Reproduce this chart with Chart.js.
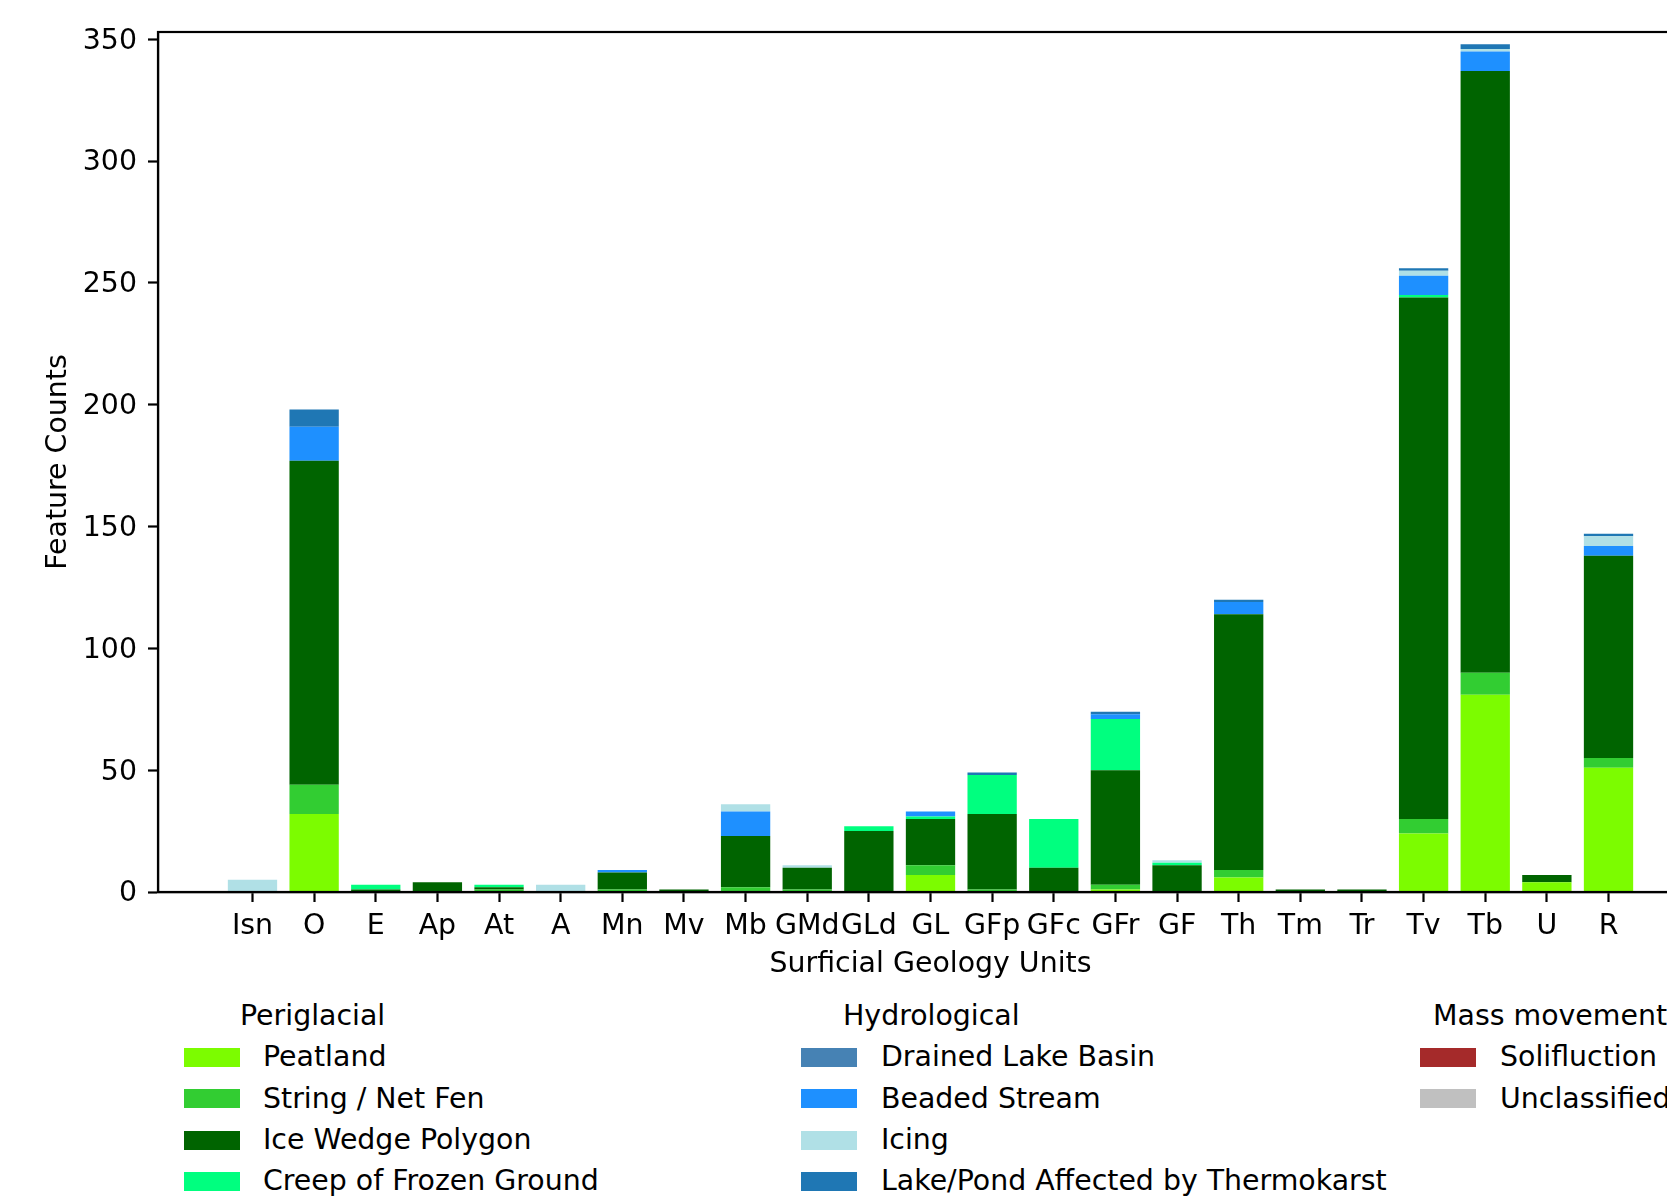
<!DOCTYPE html>
<html>
<head>
<meta charset="utf-8">
<script src="https://cdn.jsdelivr.net/npm/chart.js@4/dist/chart.umd.min.js"></script>
<style>
  body { margin: 0; background: #fff; overflow: hidden; width: 1667px; height: 1199px; position: relative; }
  #wrap { position: absolute; left: 0; top: 0; width: 1760px; height: 982px; }
  .lg { position: absolute; font-family: 'DejaVu Sans', sans-serif; font-size: 28.4px; color: #000; line-height: 42px; white-space: nowrap; }
  .patch { position: absolute; width: 56px; height: 19px; }
</style>
</head>
<body>
<div id="wrap"><canvas id="chart"></canvas></div>
<div id="legend"></div>
<script>
let _$ = (selector) => document.querySelector(selector);

const units = ['Isn','O','E','Ap','At','A','Mn','Mv','Mb','GMd','GLd','GL','GFp','GFc','GFr','GF','Th','Tm','Tr','Tv','Tb','U','R'];
const yTicks = [0, 50, 100, 150, 200, 250, 300, 350];

// feature counts per surficial geology unit
const peatland     = [0,32,0,0,0,0,0,0,0,0,0,7,0,0,1,0,6,0,0,24,81,4,51];
const stringFen    = [0,12,0,0,1,0,1,0,2,1,0,4,1,0,2,0,3,0,0,6,9,0,4];
const iceWedge     = [0,133,1,4,1,0,7,1,21,9,25,19,31,10,47,11,105,1,1,214,247,3,83];
const creep        = [0,0,2,0,1,0,0,0,0,0,2,1,16,20,21,1,0,0,0,1,0,0,0];
const drainedLake  = [0,0,0,0,0,0,0,0,0,0,0,0,0,0,0,0,0,0,0,0,0,0,0];
const beadedStream = [0,14,0,0,0,0,1,0,10,0,0,2,0,0,2,0,5,0,0,8,8,0,4];
const icing        = [5,0,0,0,0,3,0,0,3,1,0,0,0,0,0,1,0,0,0,2,1,0,4];
const lakePond     = [0,7,0,0,0,0,0,0,0,0,0,0,1,0,1,0,1,0,0,1,2,0,1];
const solifluction = [0,0,0,0,0,0,0,0,0,0,0,0,0,0,0,0,0,0,0,0,0,0,0];
const unclassified = [0,0,0,0,0,0,0,0,0,0,0,0,0,0,0,0,0,0,0,0,0,0,0];

const groups = [
  {title: 'Periglacial', items: [
    {name: 'Peatland', color: '#7CFC00', data: peatland},
    {name: 'String / Net Fen', color: '#32CD32', data: stringFen},
    {name: 'Ice Wedge Polygon', color: '#006400', data: iceWedge},
    {name: 'Creep of Frozen Ground', color: '#00FF7F', data: creep}
  ]},
  {title: 'Hydrological', items: [
    {name: 'Drained Lake Basin', color: '#4682B4', data: drainedLake},
    {name: 'Beaded Stream', color: '#1E90FF', data: beadedStream},
    {name: 'Icing', color: '#B0E0E6', data: icing},
    {name: 'Lake/Pond Affected by Thermokarst', color: '#1F77B4', data: lakePond}
  ]},
  {title: 'Mass movement', items: [
    {name: 'Solifluction', color: '#A52A2A', data: solifluction},
    {name: 'Unclassified', color: '#C0C0C0', data: unclassified}
  ]}
];

const FONT = "'DejaVu Sans', sans-serif";
Chart.defaults.font.family = FONT;
Chart.defaults.font.size = 28.4;
Chart.defaults.color = '#000';

const frame = {
  id: 'frame',
  afterDraw(chart) {
    const {ctx, chartArea: a} = chart;
    ctx.save();
    ctx.strokeStyle = '#000';
    ctx.lineWidth = 2.2;
    ctx.strokeRect(a.left, a.top, a.right - a.left, a.bottom - a.top);
    ctx.restore();
  }
};

const createChart = () => {
  const datasets = [];
  groups.forEach(g => g.items.forEach(it => {
    datasets.push({
      label: it.name,
      data: it.data.map((v, i) => ({x: i, y: v})),
      backgroundColor: it.color,
      borderWidth: 0,
      categoryPercentage: 1.0,
      barPercentage: 0.8
    });
  }));

  new Chart(_$('#chart'), {
    type: 'bar',
    data: {datasets},
    options: {
      responsive: true,
      maintainAspectRatio: false,
      animation: false,
      layout: {padding: {top: 32, right: 57, left: 0, bottom: 0}},
      plugins: {legend: {display: false}, tooltip: {enabled: false}},
      scales: {
        x: {
          type: 'linear',
          stacked: true,
          offset: false,
          min: -1.533,
          max: 23.533,
          afterBuildTicks: s => { s.ticks = units.map((u, i) => ({value: i})); },
          afterFit: s => { s.height = 90; },
          ticks: {
            autoSkip: false, maxRotation: 0, padding: 8,
            callback: v => units[v]
          },
          grid: {offset: false, drawOnChartArea: false, drawTicks: true, tickLength: 10, tickWidth: 2.2, tickColor: '#000', color: '#000'},
          border: {display: true, color: '#000', width: 2.2},
          title: {display: true, text: 'Surficial Geology Units', padding: 0}
        },
        y: {
          stacked: true,
          min: 0,
          max: 353,
          afterBuildTicks: s => { s.ticks = yTicks.map(v => ({value: v})); },
          afterFit: s => { s.width = 158; },
          ticks: {padding: 11, labelOffset: 2},
          grid: {drawOnChartArea: false, drawTicks: true, tickLength: 10, tickWidth: 2.2, tickColor: '#000', color: '#000'},
          border: {display: true, color: '#000', width: 2.2},
          title: {display: true, text: 'Feature Counts', padding: 42}
        }
      }
    },
    plugins: [frame]
  });
};

const createLegend = () => {
  const cols = [
    {patch: 184, title: 240, text: 263},
    {patch: 801, title: 843, text: 881},
    {patch: 1420, title: 1433, text: 1500}
  ];
  const rowY = [1016, 1057, 1098.5, 1140, 1181];
  const box = _$('#legend');
  groups.forEach((g, gi) => {
    const c = cols[gi];
    let t = document.createElement('div');
    t.className = 'lg';
    t.textContent = g.title;
    t.style.left = c.title + 'px';
    t.style.top = (rowY[0] - 21) + 'px';
    box.appendChild(t);
    g.items.forEach((it, i) => {
      const y = rowY[i + 1];
      const p = document.createElement('div');
      p.className = 'patch';
      p.style.background = it.color;
      p.style.left = c.patch + 'px';
      p.style.top = (y - 9.5) + 'px';
      box.appendChild(p);
      const l = document.createElement('div');
      l.className = 'lg';
      l.textContent = it.name;
      l.style.left = c.text + 'px';
      l.style.top = (y - 21) + 'px';
      box.appendChild(l);
    });
  });
};

createChart();
createLegend();
</script>
</body>
</html>
